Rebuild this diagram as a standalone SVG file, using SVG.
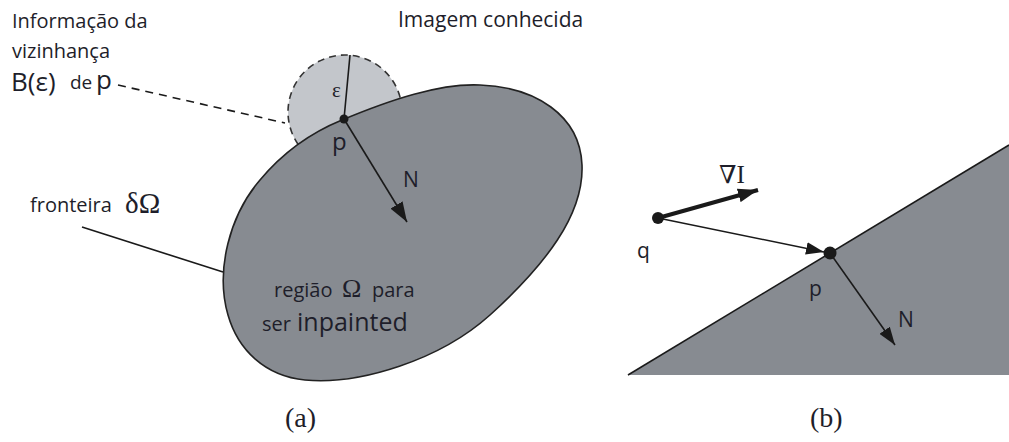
<svg xmlns="http://www.w3.org/2000/svg" width="1009" height="442" viewBox="0 0 1009 442">
<defs>
<style>
.sans{font-family:"Open Sans","Liberation Sans",sans-serif;fill:#1e1e2a}
.serif{font-family:"Liberation Serif","DejaVu Serif",serif;fill:#1e1e2a}
.ln{stroke:#1a1a1a;fill:none;stroke-width:1.6}
</style>
<marker id="ah" viewBox="0 0 20 14" refX="20" refY="7" markerWidth="20" markerHeight="14" markerUnits="userSpaceOnUse" orient="auto">
<path d="M0,0 L20,7 L0,14 Z" fill="#1a1a1a"/>
</marker>
<marker id="ahs" viewBox="0 0 20 14" refX="20" refY="7" markerWidth="18" markerHeight="13" markerUnits="userSpaceOnUse" orient="auto">
<path d="M0,0 L20,7 L0,14 Z" fill="#1a1a1a"/>
</marker>
</defs>
<rect width="1009" height="442" fill="#ffffff"/>

<g id="neighbourhood">
<circle cx="345" cy="112" r="57" fill="#c3c6cb" stroke="#333" stroke-width="1.6" stroke-dasharray="7,5"/>
</g>
<g id="region">
<path d="M342,120 C390,100 440,83 480,85 C535,87 580,115 582,165 C584,215 545,265 490,315 C440,360 360,385 305,380 C265,376 238,350 228,315 C215,270 230,215 260,180 C285,150 315,131 342,120 Z" fill="#878b91" stroke="#222" stroke-width="1.6"/>
<text class="sans" x="274" y="297" font-size="20">região</text>
<text class="serif" x="342" y="297" font-size="26">Ω</text>
<text class="sans" x="372" y="297" font-size="20">para</text>
<text class="sans" x="262" y="331" font-size="20">ser</text>
<text class="sans" x="297" y="331" font-size="25">inpainted</text>
</g>
<g id="labels-a">
<text class="sans" x="12" y="28" font-size="20">Informação da</text>
<text class="sans" x="12" y="58" font-size="20">vizinhança</text>
<text class="sans" x="11" y="91" font-size="26">B(ε)</text>
<text class="sans" x="70" y="89" font-size="19">de</text>
<text class="sans" x="96" y="89" font-size="26">p</text>
<text class="sans" x="398" y="27" font-size="21">Imagem conhecida</text>
<text class="sans" x="30" y="212" font-size="20">fronteira</text>
<text class="serif" x="125" y="213" font-size="29">δΩ</text>
<text class="serif" x="332" y="97" font-size="21">ε</text>
<text class="sans" x="332" y="150" font-size="24">p</text>
<text class="sans" x="403" y="187" font-size="21">N</text>
<text class="serif" x="285" y="427" font-size="28">(a)</text>
</g>
<g id="half-plane">
<polygon points="628,375 1009,145 1009,375" fill="#878b91"/>
<line class="ln" x1="628" y1="375" x2="1009" y2="145"/>
</g>
<g id="labels-b">
<text class="serif" x="719" y="183" font-size="25">∇I</text>
<text class="sans" x="637" y="258" font-size="21">q</text>
<text class="sans" x="809" y="296" font-size="21">p</text>
<text class="sans" x="898" y="327" font-size="21">N</text>
<text class="serif" x="810" y="427" font-size="28">(b)</text>
</g>
<g id="connectors">
<line class="ln" x1="344" y1="119" x2="350" y2="55"/>
<line class="ln" x1="118" y1="85" x2="285" y2="123" stroke-dasharray="8,6"/>
<line class="ln" x1="82" y1="227" x2="223" y2="272"/>
<line class="ln" x1="344" y1="119" x2="407" y2="222" marker-end="url(#ah)"/>
<line x1="658" y1="218" x2="758" y2="190" stroke="#1a1a1a" stroke-width="4" marker-end="url(#ah)"/>
<line class="ln" x1="658" y1="218" x2="824" y2="252" marker-end="url(#ahs)"/>
<line class="ln" x1="830" y1="253" x2="895" y2="345" marker-end="url(#ahs)"/>
<circle cx="344" cy="119" r="4.5" fill="#1a1a1a"/>
<circle cx="658" cy="218" r="6" fill="#1a1a1a"/>
<circle cx="830" cy="253" r="6.5" fill="#1a1a1a"/>
</g>
</svg>
